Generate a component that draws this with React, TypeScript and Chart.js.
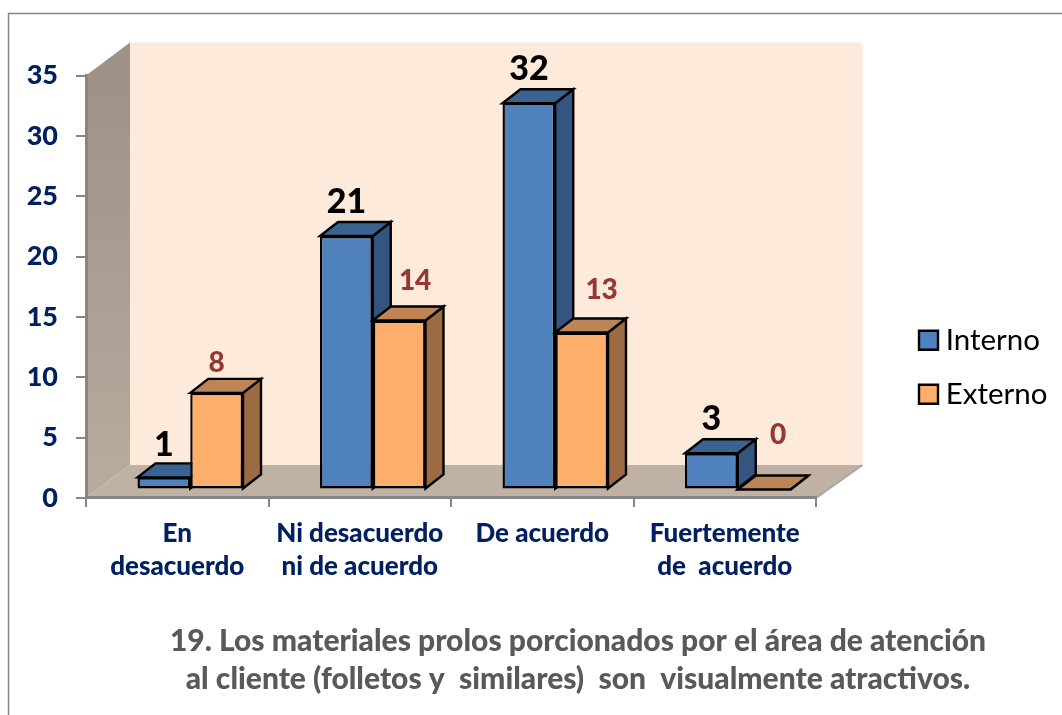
import React, { useEffect, useRef } from "react";
import { Chart, registerables } from "chart.js";

Chart.register(...registerables);

const categories = [
  ["En", "desacuerdo"],
  ["Ni desacuerdo", "ni de acuerdo"],
  ["De acuerdo"],
  ["Fuertemente", "de  acuerdo"],
];
const interno = [1, 21, 32, 3];
const externo = [8, 14, 13, 0];
const titleLines = [
  "19. Los materiales prolos porcionados por el área de atención",
  "al cliente (folletos y  similares)  son  visualmente atractivos.",
];

const FONT = "Lato, Carlito, sans-serif";
const NAVY = "#002060";
const AXIS = "#868686";
const FRONT = ["#4F81BD", "#FDAE6B"];
const TOP = ["#3A6391", "#BD8455"];
const SIDE = ["#34557F", "#9D6B43"];

// 3-D look: wall depth, bar depth and the shift of the bar plane
const WALL_DX = 44, WALL_DX_R = 46.5, WALL_DY = -33;
const BAR_DX = 18, BAR_DY = -14;
const SHIFT_X = 13, SHIFT_Y = -8.5;

// hand-placed data labels: offset from front-top-centre of each bar
const labelOffsets = [
  [[0, -32], [0, -34], [0, -34], [0, -34]],
  [[0, -30], [16, -40], [20, -43], [14, -55]],
];
const labelStyle = [
  { font: `900 34px ${FONT}`, color: "#000000" },
  { font: `900 28px ${FONT}`, color: "#953735" },
];

function poly(ctx: CanvasRenderingContext2D, pts: number[][], fill?: any, stroke?: string, lw = 2) {
  ctx.beginPath();
  pts.forEach((p, i) => (i ? ctx.lineTo(p[0], p[1]) : ctx.moveTo(p[0], p[1])));
  ctx.closePath();
  if (fill) { ctx.fillStyle = fill; ctx.fill(); }
  if (stroke) { ctx.strokeStyle = stroke; ctx.lineWidth = lw; ctx.stroke(); }
}

const scene: any = {
  id: "scene",
  beforeLayout(chart: any) {
    const lg = chart.legend;
    if (lg && !lg.__wrapped) {
      const orig = lg.fit;
      lg.fit = function () { orig.call(this); this.width = 246; };
      lg.__wrapped = true;
    }
  },
  afterLayout(chart: any) {
    const t = chart.titleBlock;
    t.left = 94; t.right = 1062;
    const lg = chart.legend;
    const h = lg.height;
    lg.left = 926 - lg.options.labels.padding;
    lg.right = 1062;
    lg.top = 325.5 - lg.options.labels.padding;
    lg.bottom = lg.top + h;
  },
  beforeDraw(chart: any) {
    const { ctx, chartArea: a } = chart;
    ctx.save();
    ctx.fillStyle = "#FFFFFF";
    ctx.fillRect(0, 0, chart.width, chart.height);
    ctx.strokeStyle = AXIS; ctx.lineWidth = 1.5;
    ctx.beginPath(); ctx.moveTo(8.5, 715); ctx.lineTo(8.5, 13.5); ctx.lineTo(1062, 13.5); ctx.stroke();
    poly(ctx, [[a.left + WALL_DX, a.top + WALL_DY], [a.right + WALL_DX_R, a.top + WALL_DY], [a.right + WALL_DX_R, a.bottom + WALL_DY], [a.left + WALL_DX, a.bottom + WALL_DY]], "#FDEADA");
    const g = ctx.createLinearGradient(0, a.top, 0, a.bottom);
    g.addColorStop(0, "#9E9287"); g.addColorStop(1, "#B8AC9F");
    poly(ctx, [[a.left, a.top], [a.left + WALL_DX, a.top + WALL_DY], [a.left + WALL_DX, a.bottom + WALL_DY], [a.left, a.bottom]], g);
    poly(ctx, [[a.left, a.bottom], [a.left + WALL_DX, a.bottom + WALL_DY], [a.right + WALL_DX_R, a.bottom + WALL_DY], [a.right, a.bottom]], "#BFB1A4");
    ctx.strokeStyle = "#A8A8A8"; ctx.lineWidth = 2;
    ctx.beginPath(); ctx.moveTo(a.right, a.bottom); ctx.lineTo(a.right + WALL_DX_R, a.bottom + WALL_DY); ctx.stroke();
    ctx.restore();
  },
  // Interno must be painted before Externo, so the plugin runs the bars in that order
  beforeDatasetsDraw(chart: any) {
    const { ctx } = chart;
    ctx.save();
    ctx.translate(SHIFT_X, SHIFT_Y);
    ctx.lineJoin = "miter";
    chart.data.datasets.forEach((_: any, i: number) => {
      const meta = chart.getDatasetMeta(i);
      meta.data.forEach((el: any) => {
        const { x, y, base, width } = el.getProps(["x", "y", "base", "width"], true);
        const l = x - width / 2, r = x + width / 2;
        poly(ctx, [[r, y], [r + BAR_DX, y + BAR_DY], [r + BAR_DX, base + BAR_DY], [r, base]], SIDE[i], "#000", 2.4);
        poly(ctx, [[l, y], [l + BAR_DX, y + BAR_DY], [r + BAR_DX, y + BAR_DY], [r, y]], TOP[i], "#000", 2.4);
      });
      meta.controller.draw();
    });
    ctx.restore();
  },
  beforeDatasetDraw() {
    return false;
  },
  afterDatasetsDraw(chart: any) {
    const { ctx } = chart;
    ctx.save();
    ctx.textAlign = "center";
    ctx.textBaseline = "middle";
    chart.data.datasets.forEach((ds: any, i: number) => {
      chart.getDatasetMeta(i).data.forEach((el: any, j: number) => {
        const { x, y } = el.getProps(["x", "y"], true);
        ctx.font = labelStyle[i].font;
        ctx.fillStyle = labelStyle[i].color;
        ctx.fillText(String(ds.data[j]), x + SHIFT_X + labelOffsets[i][j][0], y + SHIFT_Y + labelOffsets[i][j][1]);
      });
    });
    ctx.restore();
  },
};

export default function App() {
  const ref = useRef<HTMLCanvasElement>(null);
  useEffect(() => {
    const chart = new Chart(ref.current as HTMLCanvasElement, {
      type: "bar",
      data: {
        labels: categories as any,
        datasets: [
          { label: "Interno", data: interno, backgroundColor: FRONT[0], borderColor: "#000", borderWidth: 2.4, borderSkipped: false, categoryPercentage: 0.578, barPercentage: 1 } as any,
          { label: "Externo", data: externo, backgroundColor: FRONT[1], borderColor: "#000", borderWidth: 2.4, borderSkipped: false, categoryPercentage: 0.578, barPercentage: 1 } as any,
        ],
      },
      plugins: [scene],
      options: {
        responsive: false,
        animation: false,
        layout: { padding: { top: 75.5, left: 0, right: 0, bottom: 0 } },
        scales: {
          x: {
            afterFit: (s: any) => { s.height = 124; },
            grid: { drawOnChartArea: false, drawTicks: true, tickLength: 9, color: AXIS, lineWidth: 2 },
            border: { color: AXIS, width: 3 },
            ticks: { color: NAVY, maxRotation: 0, minRotation: 0, autoSkip: false, padding: 10, font: { family: FONT, weight: "900", size: 26, lineHeight: 1.27 } },
          },
          y: {
            min: 0,
            max: 35,
            afterFit: (s: any) => { s.width = 86; },
            grid: { drawOnChartArea: false, drawTicks: true, tickLength: 10, color: AXIS, lineWidth: 2 },
            border: { color: AXIS, width: 3 },
            ticks: { stepSize: 5, color: NAVY, padding: 18, font: { family: FONT, weight: "900", size: 27 } },
          },
        },
        plugins: {
          tooltip: { enabled: false },
          legend: {
            position: "right",
            align: "start",
            labels: {
              usePointStyle: true,
              pointStyle: "rect",
              boxWidth: 5,
              boxHeight: 19,
              padding: 24.5,
              color: "#000000",
              font: { family: FONT, size: 29.5 },
            },
          },
          title: {
            display: true,
            position: "bottom",
            text: titleLines,
            color: "#595959",
            padding: { top: 0, bottom: 17 },
            font: { family: FONT, weight: "900", size: 30, lineHeight: 1.267 },
          },
        },
      } as any,
    });
    return () => chart.destroy();
  }, []);
  return (
    <div style={{ position: "fixed", left: 0, top: 0, width: 1062, height: 715, overflow: "hidden" }}>
      <canvas ref={ref} width={1062} height={715} style={{ display: "block" }} />
    </div>
  );
}
